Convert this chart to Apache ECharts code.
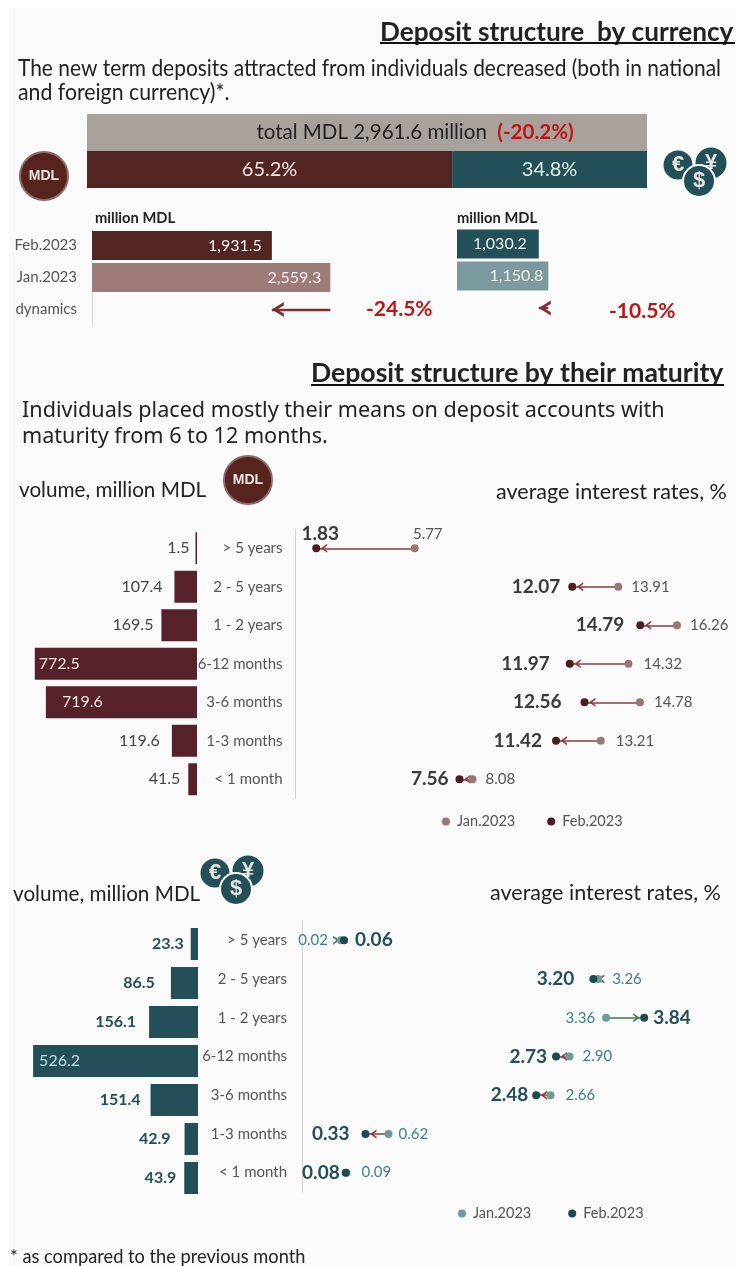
<!DOCTYPE html>
<html><head><meta charset="utf-8">
<style>html,body{margin:0;padding:0;background:#fff;width:736px;height:1266px;overflow:hidden}
#panel{position:absolute;left:9px;top:8px;right:0;bottom:0;background:#fafafa}
#c{position:absolute;left:0;top:0;width:736px;height:1266px}</style>
<script src="https://cdn.jsdelivr.net/npm/echarts@6/dist/echarts.min.js"></script>
</head><body><div id="panel"></div><div id="c"></div>
<script>
// ---- data ----
var shareCategories = ['total', 'split'];
var shareTotal = 100;
var shareMdl = 65.2;
var shareFx = 34.8;
var monthCategories = ['Feb.2023', 'Jan.2023', 'dynamics'];
var mdlVolumeMonths = [1931.5, 2559.3];
var fxVolumeMonths = [1030.2, 1150.8];
var dynamicsLabels = ['-24.5%', '-10.5%'];
var maturities = ['> 5 years', '2 - 5 years', '1 - 2 years', '6-12 months', '3-6 months', '1-3 months', '< 1 month'];
var mdlVolume = [1.5, 107.4, 169.5, 772.5, 719.6, 119.6, 41.5];
var mdlJan = [5.77, 13.91, 16.26, 14.32, 14.78, 13.21, 8.08];
var mdlFeb = [1.83, 12.07, 14.79, 11.97, 12.56, 11.42, 7.56];
var fxVolume = [23.3, 86.5, 156.1, 526.2, 151.4, 42.9, 43.9];
var fxJan = [0.02, 3.26, 3.36, 2.90, 2.66, 0.62, 0.09];
var fxFeb = [0.06, 3.20, 3.84, 2.73, 2.48, 0.33, 0.08];

// ---- label placement (not data) ----
var mdlVolGap = [6, 12, 8, 4, 16, 12, 8];
var fxVolGap = [7, 16, 13, 6, 10, 14, 8];
var mdlJanPlace = [['top', 3, [13, 0]], ['right', 9], ['right', 9], ['right', 11], ['right', 10], ['right', 11], ['right', 9]];
var mdlFebPlace = [['top', 1, [4, 0]], ['left', 8], ['left', 12], ['left', 16], ['left', 19], ['left', 10], ['left', 7]];
var fxJanPlace = [['left', 9], ['right', 10], ['left', 7], ['right', 9], ['right', 11], ['right', 6], ['right', 11]];
var fxFebPlace = [['right', 7], ['left', 15], ['right', 5], ['left', 5], ['left', 4], ['left', 12], ['left', 2]];

var FONT = 'Lato,"Noto Sans",sans-serif';
var WIDE = '"Noto Sans",sans-serif';
var WINE = '#56212a', WINE2 = '#9c7b78', WINEDOT = '#9a7774', WINEDARK = '#4a1b20';
var TEAL = '#234f58', TEAL2 = '#7b9a9e', TEALDOT = '#6f9a9c', TEALDARK = '#1c4a52';
var RED = '#bf1515', INK = '#222', GREY = '#555';
// arrowheads: tip placed at the value; the empty sub-paths only widen the box so the tip sits off-centre
var HEAD_BIG = 'path://M0 0 L7.5 12 L4 12 L0 5 L-4 12 L-7.5 12 Z M-13 -13 L-13 -13 Z M13 13 L13 13 Z';
var HEAD_RATE = 'path://M0 4.5 L4.5 11 L2.7 11 L0 7.5 L-2.7 11 L-4.5 11 Z M-11 -11 L-11 -11 Z M11 -11 L11 -11 Z';

function fmt1(v) { return v.toLocaleString('en-US', { minimumFractionDigits: 1, maximumFractionDigits: 1 }); }
function hiddenValue(idx, o) { return Object.assign({ gridIndex: idx, type: 'value', show: false }, o); }
function hiddenCat(idx, data, o) { return Object.assign({ gridIndex: idx, type: 'category', data: data, show: false, inverse: true }, o); }

var grids = [
  { left: 87, top: 114, width: 560, height: 74 },
  { left: 92, top: 229.5, width: 298, height: 96 },
  { left: 457, top: 228, width: 119, height: 96 },
  { left: 8, top: 529, width: 189, height: 269.5 },
  { left: 295.5, top: 529, width: 425, height: 269.5 },
  { left: 10, top: 924.5, width: 188, height: 273 },
  { left: 302, top: 921, width: 394.6, height: 271 }
];
var xAxes = [
  hiddenValue(0, { min: 0, max: 100 }),
  hiddenValue(1, { min: 0, max: 3200 }),
  hiddenValue(2, { min: 0, max: 1500 }),
  hiddenValue(3, { min: 0, max: 900, inverse: true }),
  hiddenValue(4, { min: 1, max: 18 }),
  hiddenValue(5, { min: 0, max: 600, inverse: true }),
  hiddenValue(6, { min: -0.47, max: 4.5 })
];
function rateAxis(idx, color, margin) {
  return { gridIndex: idx, type: 'category', data: maturities, inverse: true,
    axisLine: { show: true, onZero: false, lineStyle: { color: '#d2d2d2', width: 1 } }, axisTick: { show: false },
    splitLine: { show: false },
    axisLabel: { color: color, fontFamily: FONT, fontSize: 15, margin: margin } };
}
var yAxes = [
  hiddenCat(0, shareCategories),
  { gridIndex: 1, type: 'category', data: monthCategories, inverse: true,
    axisLine: { show: true, onZero: false, lineStyle: { color: '#d8d8d8' } }, axisTick: { show: false },
    axisLabel: { color: '#555', fontFamily: FONT, fontSize: 15, margin: 15 } },
  hiddenCat(2, monthCategories),
  hiddenCat(3, maturities),
  rateAxis(4, '#555', 13),
  hiddenCat(5, maturities),
  rateAxis(6, '#555', 15)
];

function volumeSeries(idx, values, gaps, colour, labelColour, labelWeight, insideColour) {
  var maxV = Math.max.apply(null, values);
  return { type: 'bar', xAxisIndex: idx, yAxisIndex: idx, barWidth: 32, barMinHeight: 1.5,
    itemStyle: { color: colour },
    data: values.map(function (v, i) {
      var inside = v > maxV * 0.8;
      return { value: v, label: { show: true, position: inside ? 'insideLeft' : 'left', distance: gaps[i],
        color: inside ? insideColour : labelColour, fontFamily: FONT, fontSize: 16, fontWeight: inside ? 'normal' : labelWeight,
        formatter: fmt1(v) } };
    }) };
}
function monthSeries(idx, values, colours, gaps, headSize, lineColour) {
  var data = values.map(function (v, i) {
    return { value: v, itemStyle: { color: colours[i] }, label: { show: true, position: 'insideRight', distance: gaps[i],
      color: '#f3eeee', fontFamily: FONT, fontSize: 16, formatter: fmt1(v) } };
  });
  return { type: 'bar', xAxisIndex: idx, yAxisIndex: idx, barWidth: 29, data: data,
    markLine: { silent: true, animation: false, symbol: ['none', HEAD_BIG], symbolSize: headSize, label: { show: false },
      lineStyle: { color: lineColour, width: 2.4, type: 'solid' },
      data: [[{ coord: [values[1], 'dynamics'] }, { coord: [values[0], 'dynamics'] }]] } };
}
function placeLabel(v, place, colour, size, weight) {
  return { show: true, position: place[0], distance: place[1], offset: place[2] || [0, 0], color: colour,
    fontFamily: FONT, fontSize: size, fontWeight: weight, formatter: v.toFixed(2) };
}
function rateSeries(idx, jan, feb, janPlace, febPlace, janDot, febDot, janText, febText) {
  var janPoints = jan.map(function (v, i) { return { value: [v, maturities[i]], label: placeLabel(v, janPlace[i], janText, 15, 'normal') }; });
  var febPoints = feb.map(function (v, i) { return { value: [v, maturities[i]], label: placeLabel(v, febPlace[i], febText, 19, 'bold') }; });
  var arrows = [];
  jan.forEach(function (v, i) {
    if (Math.abs(v - feb[i]) < 0.02) { return; }   // no visible arrow in the picture for a change this small
    arrows.push([{ coord: [v, maturities[i]], lineStyle: { color: feb[i] > v ? '#3d7d4a' : '#8f3b3f', width: 1.5, type: 'solid' } },
                 { coord: [feb[i], maturities[i]] }]);
  });
  return [
    { name: 'Jan.2023', type: 'scatter', xAxisIndex: idx, yAxisIndex: idx, z: 3, symbolSize: 8, itemStyle: { color: janDot, opacity: 1 }, data: janPoints,
      markLine: { z: 3, silent: true, animation: false, symbol: ['none', HEAD_RATE], symbolSize: 22, label: { show: false }, data: arrows } },
    { name: 'Feb.2023', type: 'scatter', xAxisIndex: idx, yAxisIndex: idx, z: 4, symbolSize: 8, itemStyle: { color: febDot, opacity: 1 }, data: febPoints }
  ];
}
var series = [
  { type: 'bar', stack: 's', xAxisIndex: 0, yAxisIndex: 0, barWidth: 37, itemStyle: { color: '#a9a19b' },
    data: [{ value: shareTotal, label: { show: true, position: 'inside', offset: [48, 0], fontFamily: FONT, fontSize: 20.5, color: '#222',
      formatter: '{a|total MDL 2,961.6 million}  {b|(-20.2%)}',
      rich: { a: { fontFamily: FONT, fontSize: 20.5, color: '#222' }, b: { fontFamily: FONT, fontSize: 20.5, color: RED, fontWeight: 'bold' } } } }, null] },
  { type: 'bar', stack: 's', xAxisIndex: 0, yAxisIndex: 0, barWidth: 37, itemStyle: { color: '#532522' },
    data: [null, shareMdl], label: { show: true, position: 'inside', color: '#f0e8e6', fontFamily: FONT, fontSize: 20, formatter: '{c}%' } },
  { type: 'bar', stack: 's', xAxisIndex: 0, yAxisIndex: 0, barWidth: 37, itemStyle: { color: TEAL },
    data: [null, shareFx], label: { show: true, position: 'inside', color: '#e6eeee', fontFamily: FONT, fontSize: 20, formatter: '{c}%' } },
  monthSeries(1, mdlVolumeMonths, ['#532522', WINE2], [10, 9], 26, '#7e3030'),
  monthSeries(2, fxVolumeMonths, [TEAL, TEAL2], [12, 5], 26, '#7e3030'),
  volumeSeries(3, mdlVolume, mdlVolGap, WINE, '#444', 'normal', '#f0e4e4'),
  volumeSeries(5, fxVolume, fxVolGap, TEAL, TEAL, 'bold', '#bfe0e2')
].concat(
  rateSeries(4, mdlJan, mdlFeb, mdlJanPlace, mdlFebPlace, WINEDOT, WINEDARK, '#555', '#3a3a3a'),
  rateSeries(6, fxJan, fxFeb, fxJanPlace, fxFebPlace, TEALDOT, TEALDARK, '#3f8088', TEAL)
);

function legendAt(left, top, gap, janC, febC, color) {
  return { left: left, top: top, itemWidth: 8, itemHeight: 8, itemGap: gap, selectedMode: false, icon: 'circle',
    textStyle: { fontFamily: FONT, fontSize: 14.5, color: color, padding: [0, 0, 0, 2] },
    data: [{ name: 'Jan.2023', itemStyle: { color: janC } }, { name: 'Feb.2023', itemStyle: { color: febC } }] };
}

function txt(text, x, y, size, o) {
  o = o || {};
  return { type: 'text', x: x, y: y, scaleX: o.sx || 1, silent: true, style: { text: text, fontFamily: o.family || FONT, fontSize: size,
    fontWeight: o.weight || 'normal', fill: o.fill || INK, align: o.align || 'left', verticalAlign: 'middle' } };
}
function rule(x1, x2, y) {
  return { type: 'line', silent: true, shape: { x1: x1, y1: y, x2: x2, y2: y }, style: { stroke: '#111', lineWidth: 2 } };
}
function coin(cx, cy, r, fill, label, size, strokeCol) {
  return [
    { type: 'circle', silent: true, shape: { cx: cx, cy: cy, r: r }, style: { fill: fill, stroke: strokeCol || '#fafafa', lineWidth: 2 } },
    { type: 'text', silent: true, x: cx, y: cy, style: { text: label, fontFamily: '"Liberation Sans",sans-serif', fontWeight: 'bold', fontSize: size, fill: '#e8e4e2', align: 'center', verticalAlign: 'middle' } }
  ];
}
function coins(dx, dy) {
  return [].concat(coin(678 + dx, 165 + dy, 15.5, TEAL, '€', 22), coin(711 + dx, 163 + dy, 16.5, TEAL, '¥', 22), coin(699 + dx, 181 + dy, 16, TEAL, '$', 22));
}
var graphics = [].concat(
  [txt('Deposit structure  by currency', 380, 32, 27, { weight: 'bold', sx: 0.97 }), rule(380, 735, 43),
   txt('The new term deposits attracted from individuals decreased (both in national', 18, 69, 23, { sx: 0.91 }),
   txt('and foreign currency)*.', 18, 93, 23, { sx: 0.925 }),
   txt('million MDL', 95, 218, 15, { weight: 'bold', sx: 0.98 }), txt('million MDL', 457, 218, 15, { weight: 'bold', sx: 0.98 }),
   txt(dynamicsLabels[0], 366, 309, 21, { weight: 'bold', fill: RED }), txt(dynamicsLabels[1], 609, 311, 21, { weight: 'bold', fill: RED }),
   txt('Deposit structure by their maturity', 311, 373, 27, { weight: 'bold', sx: 0.985 }), rule(311, 724, 385),
   txt('Individuals placed mostly their means on deposit accounts with', 22, 411, 21.6, { family: WIDE }),
   txt('maturity from 6 to 12 months.', 22, 437, 21.6, { family: WIDE }),
   txt('volume, million MDL', 19, 490, 22, { sx: 0.94 }), txt('average interest rates, %', 496, 492, 22, { sx: 0.98 }),
   txt('volume, million MDL', 13, 894, 22, { sx: 0.94 }), txt('average interest rates, %', 490, 893, 22, { sx: 0.98 }),
   txt('* as compared to the previous month', 10, 1257, 19, { sx: 0.96 })],
  coin(44, 176, 24, '#56231f', 'MDL', 14, '#8a6a66'),
  coin(248, 480, 24, '#56231f', 'MDL', 14, '#8a6a66'),
  coins(0, 0),
  coins(-463, 708)
);

var chart = echarts.init(document.getElementById('c'), null, { renderer: 'canvas' });
chart.setOption({
  animation: false,
  backgroundColor: 'transparent',
  grid: grids, xAxis: xAxes, yAxis: yAxes, series: series,
  legend: [legendAt(437, 809, 32, WINEDOT, WINEDARK, '#555'), legendAt(453, 1201, 37, TEALDOT, TEALDARK, '#555')],
  graphic: { elements: graphics }
});
</script></body></html>
